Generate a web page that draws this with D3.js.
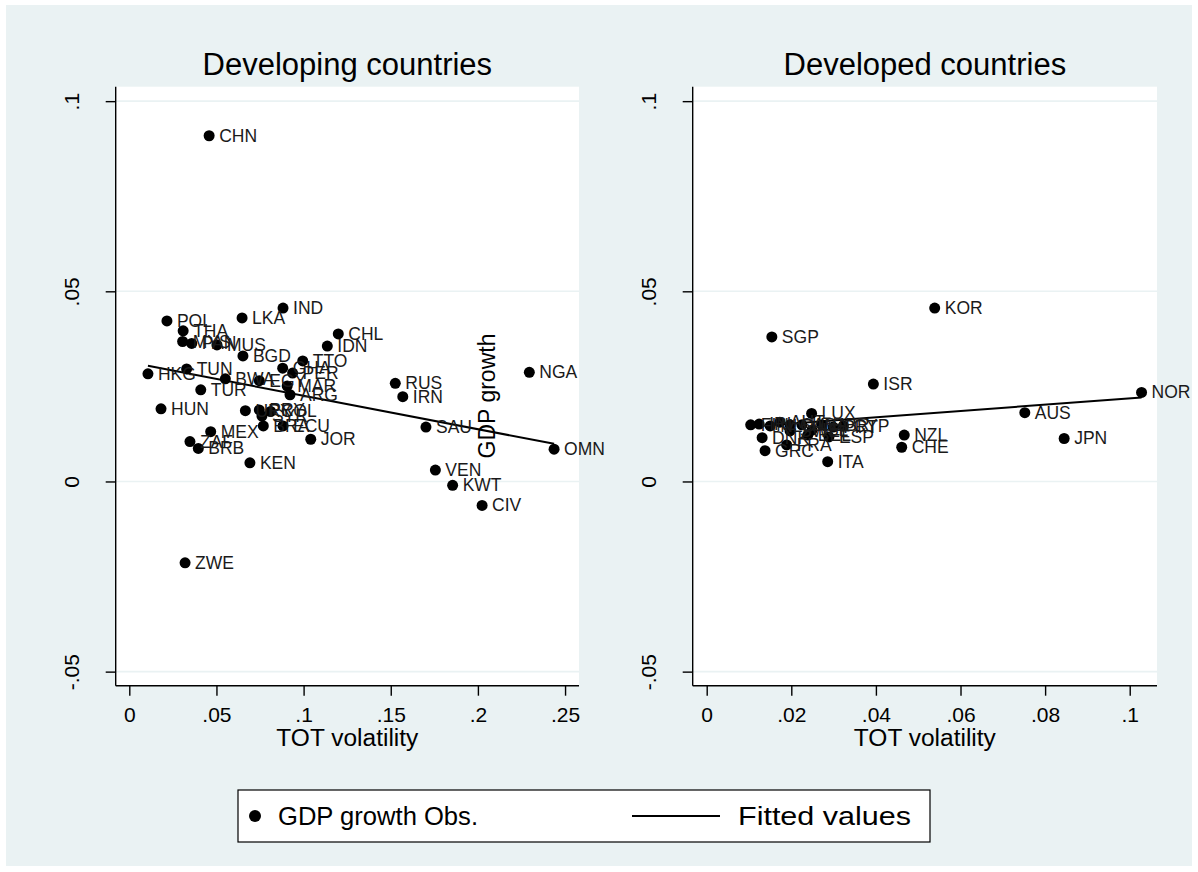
<!DOCTYPE html>
<html>
<head>
<meta charset="utf-8">
<script src="https://cdn.jsdelivr.net/npm/d3@7"></script>
<style>
  body { margin: 0; background: #fff; }
  svg text { font-family: "Liberation Sans", Arial, Helvetica, sans-serif; fill: #000; }
  .mlabel { font-size: 17.5px; fill: #1a1a1a; }
  .ticklabel { font-size: 21px; }
  .axistitle { font-size: 23px; }
  .paneltitle { font-size: 31px; }
  .legendtext { font-size: 25px; }
</style>
</head>
<body>
<div id="chart"></div>
<script>
// developing countries: label, TOT volatility, GDP growth
const devLabels = ['CHN','IND','LKA','POL','THA','MYS','PAN','MUS','BGD','CHL','IDN','TTO','GHA','PER',
  'TUN','HKG','BWA','EGY','MAR','ARG','TUR','RUS','IRN','NGA','SAU','OMN','VEN','KWT','CIV','ZWE',
  'KEN','HUN','JOR','MEX','ZAF','BRB','URY','PRY','COL','SYR','BRA','ECU'];
const devTot = [0.0458,0.0882,0.0647,0.0216,0.0309,0.0306,0.0358,0.0503,0.0652,0.1199,0.1136,0.0995,0.0880,0.0937,
  0.0329,0.0107,0.0551,0.0746,0.0906,0.0922,0.0410,0.1526,0.1569,0.2295,0.1702,0.2437,0.1756,0.1855,0.2024,0.0320,
  0.0692,0.0182,0.1041,0.0467,0.0348,0.0396,0.0666,0.0746,0.0811,0.0761,0.0769,0.0882];
const devGdp = [0.0909,0.0456,0.0430,0.0422,0.0396,0.0368,0.0363,0.0359,0.0330,0.0388,0.0356,0.0317,0.0298,0.0285,
  0.0296,0.0283,0.0270,0.0265,0.0251,0.0228,0.0241,0.0258,0.0223,0.0287,0.0143,0.0085,0.0030,-0.0010,-0.0063,-0.0214,
  0.0049,0.0191,0.0111,0.0131,0.0105,0.0087,0.0186,0.0188,0.0184,0.0172,0.0146,0.0146];

// developed countries
const dvdLabels = ['SGP','KOR','ISR','NOR','AUS','JPN','NZL','CHE','LUX','ITA','CYP','FIN','IRL','NLD','AUT',
  'CAN','USA','GBR','PRT','DNK','GRC','FRA','BEL','ESP','SWE','ISL'];
const dvdTot = [0.0154,0.0539,0.0394,0.1028,0.0752,0.0845,0.0467,0.0461,0.0248,0.0286,0.0323,0.0104,0.0124,0.0150,0.0173,
  0.0197,0.0225,0.0272,0.0299,0.0131,0.0138,0.0189,0.0239,0.0289,0.0197,0.0249];
const dvdGdp = [0.0380,0.0456,0.0256,0.0234,0.0181,0.0113,0.0122,0.0090,0.0179,0.0052,0.0146,0.0149,0.0151,0.0146,0.0156,
  0.0149,0.0149,0.0149,0.0143,0.0115,0.0081,0.0096,0.0122,0.0117,0.0133,0.0135];

// fitted values (endpoints of the regression line)
const devFitX = [0.0107, 0.2437];
const devFitY = [0.0304, 0.0099];
const dvdFitX = [0.0102, 0.1028];
const dvdFitY = [0.0144, 0.0221];

// ticks
const yTickVals = [-0.05, 0, 0.05, 0.1];
const yTickLabels = ['-.05', '0', '.05', '.1'];
const devXTickVals = [0, 0.05, 0.1, 0.15, 0.2, 0.25];
const devXTickLabels = ['0', '.05', '.1', '.15', '.2', '.25'];
const dvdXTickVals = [0, 0.02, 0.04, 0.06, 0.08, 0.1];
const dvdXTickLabels = ['0', '.02', '.04', '.06', '.08', '.1'];

const titles = ['Developing countries', 'Developed countries'];
const xTitle = 'TOT volatility';
const yTitle = 'GDP growth';
const legendLabels = ['GDP growth Obs.', 'Fitted values'];

const width = 1198, height = 872;
const bg = '#eaf2f3';

const svg = d3.select('#chart').append('svg')
  .attr('width', width)
  .attr('height', height);

svg.append('rect')
  .attr('x', 0).attr('y', 0).attr('width', width).attr('height', height)
  .attr('fill', '#fff');
svg.append('rect')
  .attr('x', 6).attr('y', 5).attr('width', width - 12).attr('height', height - 11)
  .attr('fill', bg);

// shared y scale
let y = d3.scaleLinear().domain([-0.0537, 0.1038]).range([685.7, 86.7]);

const panels = [
  { title: titles[0], left: 115.7, right: 579, xdom: [-0.0078, 0.2580],
    labels: devLabels, xs: devTot, ys: devGdp, fitX: devFitX, fitY: devFitY,
    ticks: devXTickVals, tickLabels: devXTickLabels },
  { title: titles[1], left: 692.7, right: 1157, xdom: [-0.00331, 0.10645],
    labels: dvdLabels, xs: dvdTot, ys: dvdGdp, fitX: dvdFitX, fitY: dvdFitY,
    ticks: dvdXTickVals, tickLabels: dvdXTickLabels }
];

panels.forEach(p => drawPanel(p));

function drawPanel(p) {
  let x = d3.scaleLinear().domain(p.xdom).range([p.left, p.right]);
  let top = y.range()[1], bottom = y.range()[0];
  let g = svg.append('g');

  g.append('rect')
    .attr('x', p.left).attr('y', top)
    .attr('width', p.right - p.left).attr('height', bottom - top)
    .attr('fill', '#fff');

  // gridlines
  g.selectAll('line.grid')
    .data(yTickVals)
    .enter().append('line')
    .attr('class', 'grid')
    .attr('x1', p.left).attr('x2', p.right)
    .attr('y1', d => y(d)).attr('y2', d => y(d))
    .attr('stroke', bg).attr('stroke-width', 1.6);

  // y axis
  let yAxis = d3.axisLeft(y)
    .tickValues(yTickVals)
    .tickFormat((d, i) => yTickLabels[i])
    .tickSize(10).tickSizeOuter(0);
  let ya = g.append('g')
    .attr('transform', `translate(${p.left},0)`)
    .call(yAxis);
  ya.select('.domain').attr('stroke-width', 1.4)
    .attr('d', `M0,${top}V${bottom}`);
  ya.selectAll('.tick line').attr('stroke-width', 1.4);
  ya.selectAll('.tick text')
    .attr('class', 'ticklabel')
    .attr('x', null).attr('dy', null)
    .attr('text-anchor', 'middle')
    .attr('transform', 'translate(-37,0) rotate(-90)');

  // x axis
  let xAxis = d3.axisBottom(x)
    .tickValues(p.ticks)
    .tickFormat((d, i) => p.tickLabels[i])
    .tickSize(10).tickSizeOuter(0);
  let xa = g.append('g')
    .attr('transform', `translate(0,${bottom})`)
    .call(xAxis);
  xa.select('.domain').attr('stroke-width', 1.4)
    .attr('d', `M${p.left},0H${p.right}`);
  xa.selectAll('.tick line').attr('stroke-width', 1.4);
  xa.selectAll('.tick text')
    .attr('class', 'ticklabel')
    .attr('y', 36).attr('dy', null);

  svg.selectAll('.tick text').attr('fill', null).style('fill', '#000');
  svg.selectAll('.domain, .tick line').attr('stroke', '#000');
  g.selectAll('g').attr('font-family', null).attr('font-size', null);

  // axis title
  g.append('text')
    .attr('class', 'axistitle')
    .attr('text-anchor', 'middle')
    .attr('x', (p.left + p.right) / 2)
    .attr('y', bottom + 60)
    .attr('textLength', 142)
    .attr('lengthAdjust', 'spacingAndGlyphs')
    .text(xTitle);

  // panel title
  g.append('text')
    .attr('class', 'paneltitle')
    .attr('text-anchor', 'middle')
    .attr('x', (p.left + p.right) / 2)
    .attr('y', 75)
    .text(p.title);

  // fitted line
  let line = d3.line().x(d => x(d[0])).y(d => y(d[1]));
  g.append('path')
    .datum(p.fitX.map((d, i) => [d, p.fitY[i]]))
    .attr('d', line)
    .attr('fill', 'none')
    .attr('stroke', '#000')
    .attr('stroke-width', 2);

  let pts = p.labels.map((d, i) => ({ label: d, x: p.xs[i], y: p.ys[i] }));

  g.selectAll('circle.obs')
    .data(pts)
    .enter().append('circle')
    .attr('class', 'obs')
    .attr('cx', d => x(d.x))
    .attr('cy', d => y(d.y))
    .attr('r', 5.5)
    .attr('fill', '#000');

  g.selectAll('text.mlabel')
    .data(pts)
    .enter().append('text')
    .attr('class', 'mlabel')
    .attr('x', d => x(d.x) + 10)
    .attr('y', d => y(d.y) + 6)
    .text(d => d.label);
}

// misplaced y title, as in the original
svg.append('text')
  .attr('class', 'axistitle')
  .attr('text-anchor', 'middle')
  .attr('transform', 'translate(495,396) rotate(-90)')
  .text(yTitle);

// legend
let legend = svg.append('g');
legend.append('rect')
  .attr('x', 238).attr('y', 790)
  .attr('width', 692).attr('height', 52)
  .attr('fill', '#fff')
  .attr('stroke', '#000').attr('stroke-width', 1.2);
legend.append('circle')
  .attr('cx', 255).attr('cy', 816).attr('r', 6)
  .attr('fill', '#000');
legend.append('text')
  .attr('class', 'legendtext')
  .attr('x', 278).attr('y', 825)
  .attr('textLength', 200)
  .attr('lengthAdjust', 'spacingAndGlyphs')
  .text(legendLabels[0]);
legend.append('line')
  .attr('x1', 632).attr('x2', 720)
  .attr('y1', 816).attr('y2', 816)
  .attr('stroke', '#000').attr('stroke-width', 2);
legend.append('text')
  .attr('class', 'legendtext')
  .attr('x', 738).attr('y', 825)
  .attr('textLength', 173)
  .attr('lengthAdjust', 'spacingAndGlyphs')
  .text(legendLabels[1]);
</script>
</body>
</html>
